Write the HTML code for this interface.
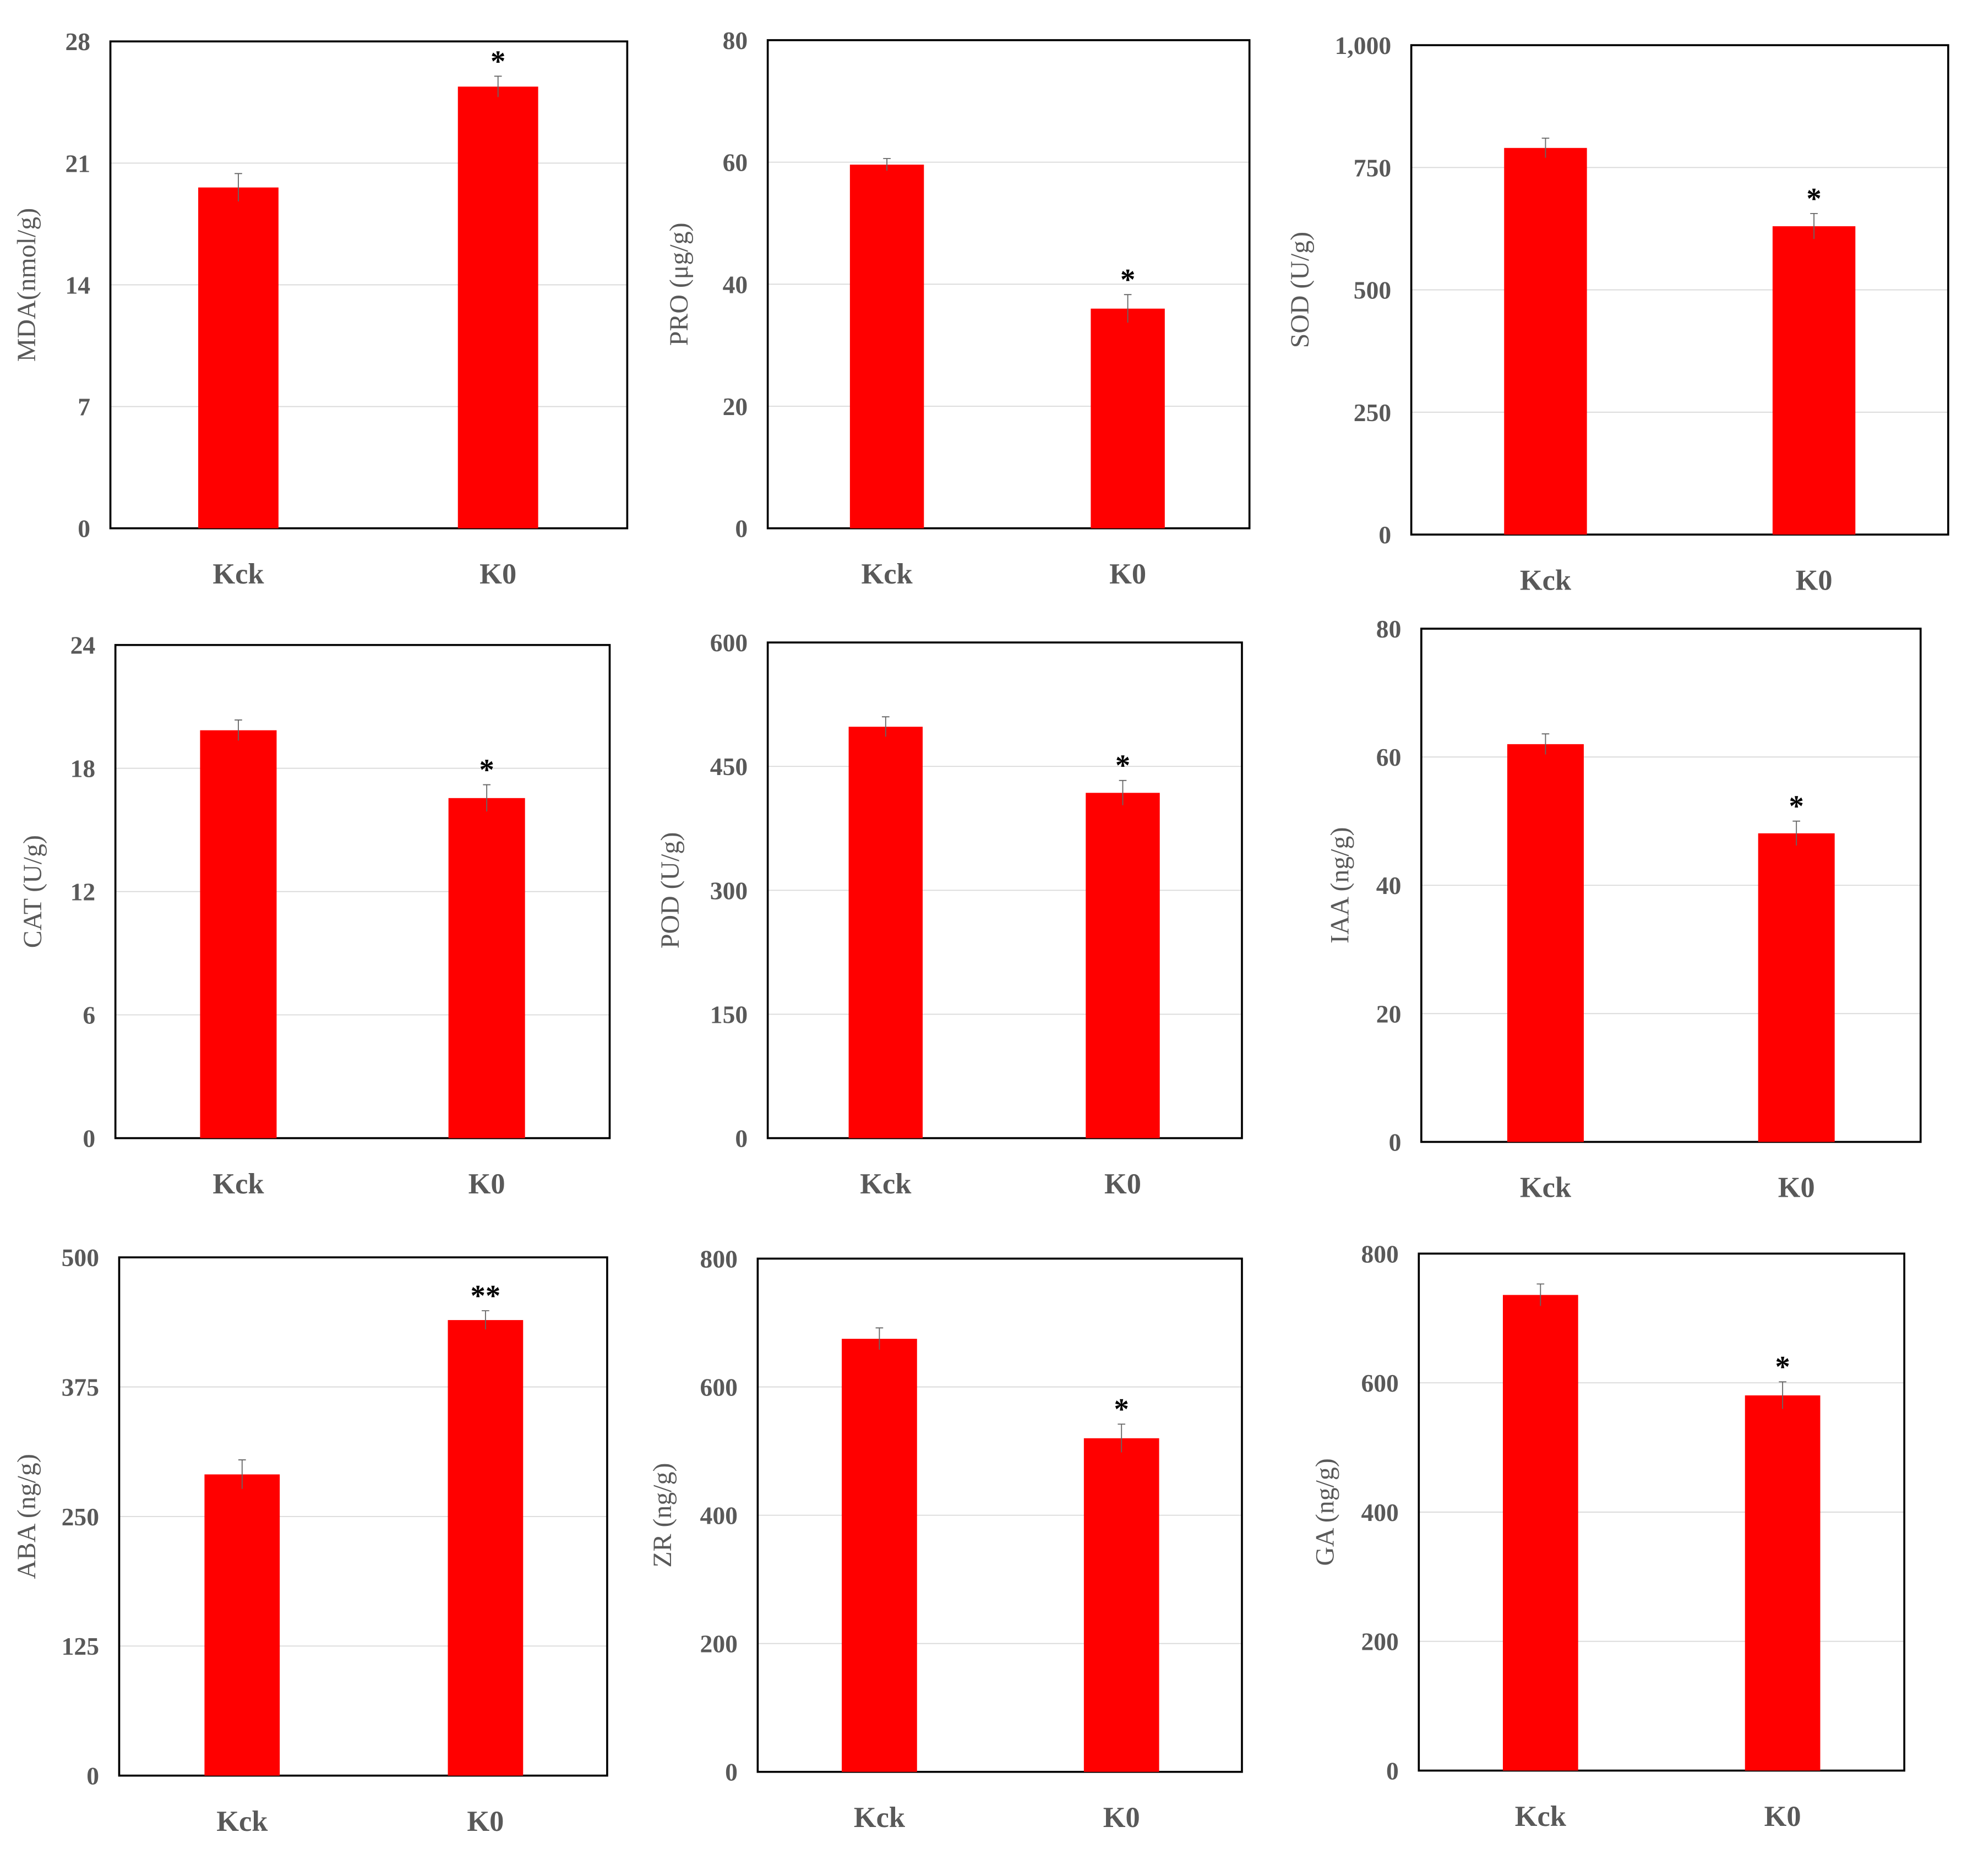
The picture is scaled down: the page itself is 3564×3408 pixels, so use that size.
<!DOCTYPE html>
<html><head><meta charset="utf-8"><style>
html,body{margin:0;padding:0;background:#fff}
svg{display:block}
text{font-family:"Liberation Serif",serif}
</style></head><body>
<svg id="fig" width="3564" height="3408" viewBox="0 0 1564 1495" preserveAspectRatio="none" xmlns="http://www.w3.org/2000/svg">
<rect x="0" y="0" width="1564" height="1495" fill="#fff"/>
</svg>
<script>
const categories = ["Kck", "K0"];
const panelNames = ["MDA","PRO","SOD","CAT","POD","IAA","ABA","ZR","GA"];
const yTitles = ["MDA(nmol/g)","PRO (μg/g)","SOD (U/g)","CAT (U/g)","POD (U/g)","IAA (ng/g)","ABA (ng/g)","ZR (ng/g)","GA (ng/g)"];
const mdaValues = [19.6, 25.4];  const mdaErrors = [0.8, 0.6];
const proValues = [59.6, 36.0];  const proErrors = [1.0, 2.3];
const sodValues = [790, 630];    const sodErrors = [20, 26];
const catValues = [19.85, 16.55];const catErrors = [0.5, 0.65];
const podValues = [498, 418];    const podErrors = [12, 15];
const iaaValues = [62, 48.1];    const iaaErrors = [1.6, 1.9];
const abaValues = [290.6, 439.5];const abaErrors = [14, 9];
const zrValues = [675, 520];     const zrErrors = [17, 22];
const gaValues = [736, 580.6];   const gaErrors = [17, 21];
const mdaTicks = [0,7,14,21,28];
const proTicks = [0,20,40,60,80];
const sodTicks = [0,250,500,750,1000];
const catTicks = [0,6,12,18,24];
const podTicks = [0,150,300,450,600];
const iaaTicks = [0,20,40,60,80];
const abaTicks = [0,125,250,375,500];
const zrTicks = [0,200,400,600,800];
const gaTicks = [0,200,400,600,800];
const sigMarks = [["","*"],["","*"],["","*"],["","*"],["","*"],["","*"],["","**"],["","*"],["","*"]];

const allValues = [mdaValues,proValues,sodValues,catValues,podValues,iaaValues,abaValues,zrValues,gaValues];
const allErrors = [mdaErrors,proErrors,sodErrors,catErrors,podErrors,iaaErrors,abaErrors,zrErrors,gaErrors];
const allTicks = [mdaTicks,proTicks,sodTicks,catTicks,podTicks,iaaTicks,abaTicks,zrTicks,gaTicks];

// layout: [left, top, right, bottom, barCenter0, barCenter1, barWidth, titleX]
const layout = [
 [88,33,500,421,190,397,64,20],
 [612,32,996,421,707,899,59,540],
 [1125,36,1553,426,1232,1446,66,1035],
 [92,514,486,907,190,388,61,25],
 [612,512,990,907,706,895,59,533],
 [1133,501,1531,910,1232,1432,61,1067],
 [95,1002,484,1415,193,387,60,20],
 [604,1003,990,1412,701,894,60,527],
 [1131,999,1518,1411,1228,1421,60,1055]
];
const NS = "http://www.w3.org/2000/svg";
const svg = document.getElementById("fig");
function mk(tag, attrs, parent){
  const e = document.createElementNS(NS, tag);
  for (const k in attrs) e.setAttribute(k, attrs[k]);
  parent.appendChild(e); return e;
}
function fmt(v){ return v>=1000 ? v.toLocaleString("en-US") : String(v); }

panelNames.forEach((name, p) => {
  const [L,T,R,B,c0,c1,bw,tx] = layout[p];
  const ticks = allTicks[p], vals = allValues[p], errs = allErrors[p];
  const maxT = ticks[ticks.length-1];
  const y = v => B - (v/maxT)*(B-T);
  const g = mk("g", {}, svg);
  
  
  // gridlines & tick labels
  ticks.forEach(t => {
    if (t>0 && t<maxT) {
      const gl = mk("line", {x1:L,x2:R,y1:y(t),y2:y(t),stroke:"#d9d9d9","stroke-width":0.8}, g);
      
      
    }
    const tl = mk("text", {x:L-16,y:y(t)+7,"text-anchor":"end","font-size":20,"font-weight":"bold",fill:"#595959"}, g);
    
    
    tl.textContent = fmt(t);
  });
  // frame
  const fr = mk("rect", {x:L,y:T,width:R-L,height:B-T,fill:"none",stroke:"#000","stroke-width":1.6}, g);
  
  
  const centers = [c0,c1];
  vals.forEach((v,i) => {
    const cx = centers[i];
    const bar = mk("rect", {x:cx-bw/2,y:y(v),width:bw,height:B-y(v),fill:"#ff0000"}, g);
    
    
    const eb = mk("path", {d:`M${cx},${y(v+errs[i])}V${y(v-errs[i])}M${cx-3},${y(v+errs[i])}H${cx+3}`,stroke:"#666","stroke-width":0.8,fill:"none"}, g);
    
    
    if (sigMarks[p][i]) {
      const s = mk("text", {x:cx,y:y(v+errs[i])-4,"text-anchor":"middle","font-size":24,"font-weight":"bold",fill:"#000"}, g);
      
      
      s.textContent = sigMarks[p][i];
    }
    const cl = mk("text", {x:cx,y:B+44,"text-anchor":"middle","font-size":23,"font-weight":"bold",fill:"#595959"}, g);
    
    
    cl.textContent = categories[i];
  });
  const midY = (T+B)/2;
  const yt = mk("text", {x:tx+8,y:midY,"text-anchor":"middle","font-size":21,fill:"#595959",transform:`rotate(-90 ${tx+8} ${midY})`}, g);
  
  
  yt.textContent = yTitles[p];
});
</script>
</body></html>
